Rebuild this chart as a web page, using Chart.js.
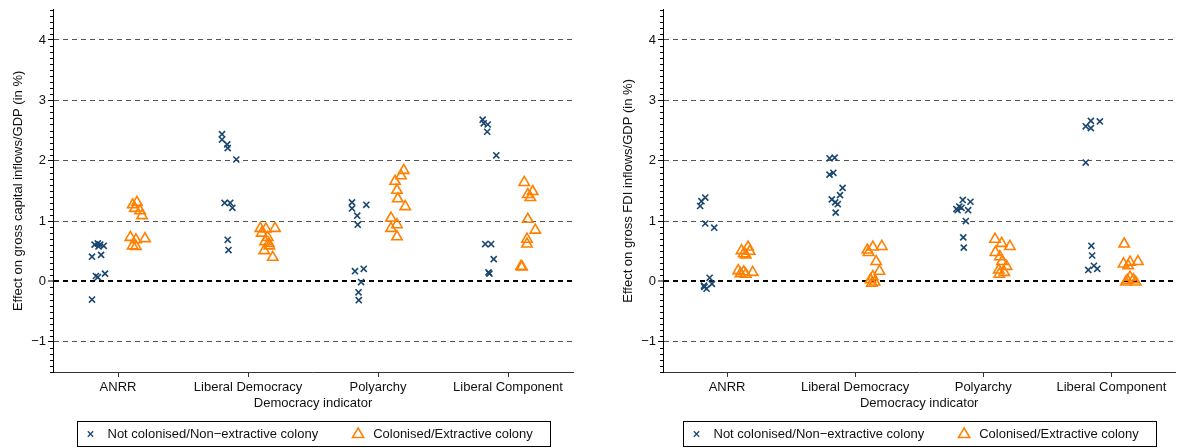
<!DOCTYPE html>
<html>
<head>
<meta charset="utf-8">
<script src="https://cdn.jsdelivr.net/npm/chart.js@4.4.1/dist/chart.umd.min.js"></script>
<style>
  html, body { margin: 0; padding: 0; background: #fff; }
  body { width: 1183px; height: 448px; position: relative; overflow: hidden; }
  canvas { position: absolute; top: 0; }
  #capital { left: 0; }
  #fdi { left: 610px; }
</style>
</head>
<body>
<canvas id="capital" width="590" height="448"></canvas>
<canvas id="fdi" width="573" height="448"></canvas>
<script>
// ─── DATOS ────────────────────────────────────────────────────────
const categories = ['ANRR', 'Liberal Democracy', 'Polyarchy', 'Liberal Component']
const yTicks = [-1, 0, 1, 2, 3, 4]
const seriesLabels = ['Not colonised/Non\u2212extractive colony', 'Colonised/Extractive colony']
const xTitle = 'Democracy indicator'

// Panel izquierdo: gross capital inflows/GDP (valores por categoría)
const capNotColVals = [
    [0.41, 0.44, 0.61, 0.63, 0.61, 0.59, 0.58, 0.09, 0.07, 0.13, -0.30],
    [2.44, 2.35, 2.27, 2.21, 2.02, 1.30, 1.30, 1.22, 0.69, 0.52],
    [1.31, 1.21, 1.27, 1.09, 0.94, 0.17, 0.21, -0.01, -0.18, -0.31],
    [2.68, 2.62, 2.60, 2.48, 2.09, 0.62, 0.62, 0.37, 0.15, 0.13]
]
const capNotColJitter = [
    [-0.20, -0.13, -0.18, -0.155, -0.137, -0.11, -0.15, -0.17, -0.155, -0.10, -0.20],
    [-0.20, -0.20, -0.16, -0.156, -0.09, -0.18, -0.137, -0.12, -0.156, -0.15],
    [-0.20, -0.20, -0.09, -0.16, -0.156, -0.177, -0.11, -0.13, -0.15, -0.148],
    [-0.195, -0.187, -0.156, -0.16, -0.09, -0.175, -0.13, -0.11, -0.15, -0.143]
]
const capColVals = [
    [1.27, 1.31, 1.21, 1.17, 1.09, 0.73, 0.69, 0.71, 0.59, 0.58],
    [0.88, 0.87, 0.88, 0.80, 0.73, 0.66, 0.63, 0.59, 0.51, 0.40],
    [1.84, 1.75, 1.66, 1.51, 1.37, 1.24, 1.05, 0.94, 0.88, 0.74],
    [1.64, 1.44, 1.49, 1.39, 1.03, 0.85, 0.70, 0.62, 0.25, 0.24]
]
const capColJitter = [
    [0.113, 0.146, 0.13, 0.17, 0.185, 0.095, 0.138, 0.208, 0.113, 0.138],
    [0.095, 0.138, 0.208, 0.105, 0.152, 0.131, 0.159, 0.164, 0.125, 0.19],
    [0.198, 0.177, 0.131, 0.146, 0.152, 0.21, 0.10, 0.146, 0.10, 0.146],
    [0.125, 0.152, 0.19, 0.172, 0.152, 0.21, 0.146, 0.146, 0.10, 0.108]
]

// Panel derecho: gross FDI inflows/GDP
const fdiNotColVals = [
    [1.33, 1.39, 1.25, 0.96, 0.89, 0.06, -0.07, -0.04, -0.12, -0.09],
    [2.04, 2.05, 1.77, 1.80, 1.55, 1.43, 1.36, 1.31, 1.28, 1.14],
    [1.35, 1.32, 1.24, 1.18, 1.22, 1.18, 1.20, 1.00, 0.73, 0.56],
    [2.66, 2.65, 2.57, 2.54, 1.97, 0.59, 0.43, 0.26, 0.19, 0.21]
]
const fdiNotColJitter = [
    [-0.20, -0.17, -0.21, -0.17, -0.10, -0.136, -0.18, -0.118, -0.16, -0.177],
    [-0.20, -0.16, -0.20, -0.17, -0.098, -0.118, -0.182, -0.156, -0.136, -0.152],
    [-0.16, -0.10, -0.187, -0.20, -0.17, -0.118, -0.21, -0.136, -0.156, -0.152],
    [-0.16, -0.09, -0.20, -0.16, -0.20, -0.156, -0.15, -0.136, -0.18, -0.11]
]
const fdiColVals = [
    [0.57, 0.51, 0.46, 0.50, 0.44, 0.18, 0.16, 0.15, 0.13, 0.12],
    [0.52, 0.57, 0.58, 0.48, 0.33, 0.17, 0.08, 0.03, -0.01, -0.03],
    [0.70, 0.63, 0.58, 0.48, 0.41, 0.33, 0.25, 0.19, 0.15, 0.12],
    [0.62, 0.29, 0.32, 0.33, 0.26, 0.07, 0.02, 0.03, -0.01, -0.01]
]
const fdiColJitter = [
    [0.164, 0.113, 0.13, 0.177, 0.146, 0.087, 0.13, 0.20, 0.105, 0.146],
    [0.095, 0.138, 0.208, 0.105, 0.164, 0.19, 0.138, 0.12, 0.152, 0.13],
    [0.092, 0.144, 0.208, 0.095, 0.13, 0.146, 0.182, 0.121, 0.164, 0.125],
    [0.10, 0.095, 0.146, 0.208, 0.131, 0.146, 0.125, 0.172, 0.19, 0.113]
]

const NAVY = '#1a476f'
const ORANGE = '#ff8000'
const FONT = '"Liberation Sans", Arial, sans-serif'

Chart.defaults.font.family = FONT
Chart.defaults.font.size = 13
Chart.defaults.color = '#111'

// categoría + desplazamiento
function puntos(vals, jitter) {
    const out = []
    vals.forEach((grupo, c) => {
        grupo.forEach((v, i) => out.push({ x: c + jitter[c][i], y: v }))
    })
    return out
}

// ─── PLUGIN: ticks menores del eje Y ──────────────────────────────
const minorTicks = {
    id: 'minorTicks',
    afterDraw(chart) {
        const y = chart.scales.y
        const ctx = chart.ctx
        ctx.save()
        ctx.strokeStyle = '#000'
        ctx.lineWidth = 1
        ctx.beginPath()
        for (let k = -15; k <= 45; k++) {
            if (k % 10 === 0) continue
            const py = Math.round(y.getPixelForValue(k / 10)) + 0.5
            ctx.moveTo(y.right - 3, py)
            ctx.lineTo(y.right, py)
        }
        ctx.stroke()
        ctx.restore()
    }
}

// ─── PLUGIN: leyenda con borde ────────────────────────────────────
const legendBox = {
    id: 'legendBox',
    afterDraw(chart) {
        const ctx = chart.ctx
        const ca = chart.chartArea
        ctx.save()
        ctx.font = '13px ' + FONT
        const w1 = ctx.measureText(seriesLabels[0]).width
        const w2 = ctx.measureText(seriesLabels[1]).width
        const boxW = Math.round(103 + w1 + w2)
        const boxH = 25
        const left = Math.round((ca.left + ca.right) / 2 - boxW / 2) + 0.5
        const top = ca.bottom + 49.5
        const cy = top + boxH / 2
        ctx.strokeStyle = '#000'
        ctx.lineWidth = 1
        ctx.strokeRect(left, top, boxW, boxH)

        const x1 = left + 13
        ctx.strokeStyle = NAVY
        ctx.lineWidth = 1.3
        ctx.beginPath()
        ctx.moveTo(x1 - 2.7, cy - 2.7); ctx.lineTo(x1 + 2.7, cy + 2.7)
        ctx.moveTo(x1 - 2.7, cy + 2.7); ctx.lineTo(x1 + 2.7, cy - 2.7)
        ctx.stroke()

        const x2 = x1 + 17 + w1 + 40
        ctx.strokeStyle = ORANGE
        ctx.lineWidth = 1.5
        ctx.beginPath()
        ctx.moveTo(x2, cy - 6)
        ctx.lineTo(x2 + 5.7, cy + 3.6)
        ctx.lineTo(x2 - 5.7, cy + 3.6)
        ctx.closePath()
        ctx.stroke()

        ctx.fillStyle = '#111'
        ctx.textBaseline = 'middle'
        ctx.fillText(seriesLabels[0], x1 + 17, cy + 0.5)
        ctx.fillText(seriesLabels[1], x2 + 15, cy + 0.5)
        ctx.restore()
    }
}

// ─── PANEL ────────────────────────────────────────────────────────
function panel(id, yTitle, notVals, notJit, colVals, colJit, padRight) {
    return new Chart(document.getElementById(id), {
        type: 'scatter',
        data: {
            datasets: [{
                label: seriesLabels[0],
                data: puntos(notVals, notJit),
                pointStyle: 'crossRot',
                pointRadius: 4.3,
                pointBorderWidth: 1.6,
                pointBorderColor: NAVY,
                pointBackgroundColor: NAVY
            }, {
                label: seriesLabels[1],
                data: puntos(colVals, colJit),
                pointStyle: 'triangle',
                pointRadius: 6,
                pointBorderWidth: 1.6,
                pointBorderColor: ORANGE,
                pointBackgroundColor: 'rgba(0,0,0,0)'
            }]
        },
        options: {
            responsive: false,
            animation: false,
            devicePixelRatio: 1,
            layout: { padding: { top: 8, right: padRight, bottom: 37, left: 0 } },
            plugins: { legend: { display: false }, tooltip: { enabled: false } },
            scales: {
                x: {
                    type: 'linear',
                    min: -0.5,
                    max: 3.5,
                    afterFit: s => { s.height = 39 },
                    afterBuildTicks: s => { s.ticks = categories.map((c, i) => ({ value: i })) },
                    ticks: {
                        autoSkip: false,
                        maxRotation: 0,
                        padding: 3,
                        callback: v => categories[v]
                    },
                    grid: { drawOnChartArea: false, drawTicks: true, tickLength: 5, tickColor: '#333' },
                    border: { color: '#333', width: 1 },
                    title: { display: true, text: xTitle, padding: 0 }
                },
                y: {
                    min: -1.5,
                    max: 4.5,
                    afterFit: s => { s.width = 53 },
                    afterBuildTicks: s => { s.ticks = yTicks.map(v => ({ value: v })) },
                    ticks: {
                        padding: 2,
                        callback: v => v < 0 ? '\u2212' + Math.abs(v) : String(v)
                    },
                    grid: {
                        color: c => (c.tick && c.tick.value === 0) ? '#000' : '#555',
                        lineWidth: c => (c.tick && c.tick.value === 0) ? 2 : 1,
                        tickLength: 5,
                        tickColor: '#000',
                        tickWidth: 1
                    },
                    border: { color: '#000', width: 1, dash: [5, 4] },
                    title: { display: true, text: yTitle, padding: { top: 11, bottom: 0 } }
                }
            }
        },
        plugins: [minorTicks, legendBox]
    })
}

panel('capital', 'Effect on gross capital inflows/GDP (in %)',
    capNotColVals, capNotColJitter, capColVals, capColJitter, 17)
panel('fdi', 'Effect on gross FDI inflows/GDP (in %)',
    fdiNotColVals, fdiNotColJitter, fdiColVals, fdiColJitter, 0)
</script>
</body>
</html>
